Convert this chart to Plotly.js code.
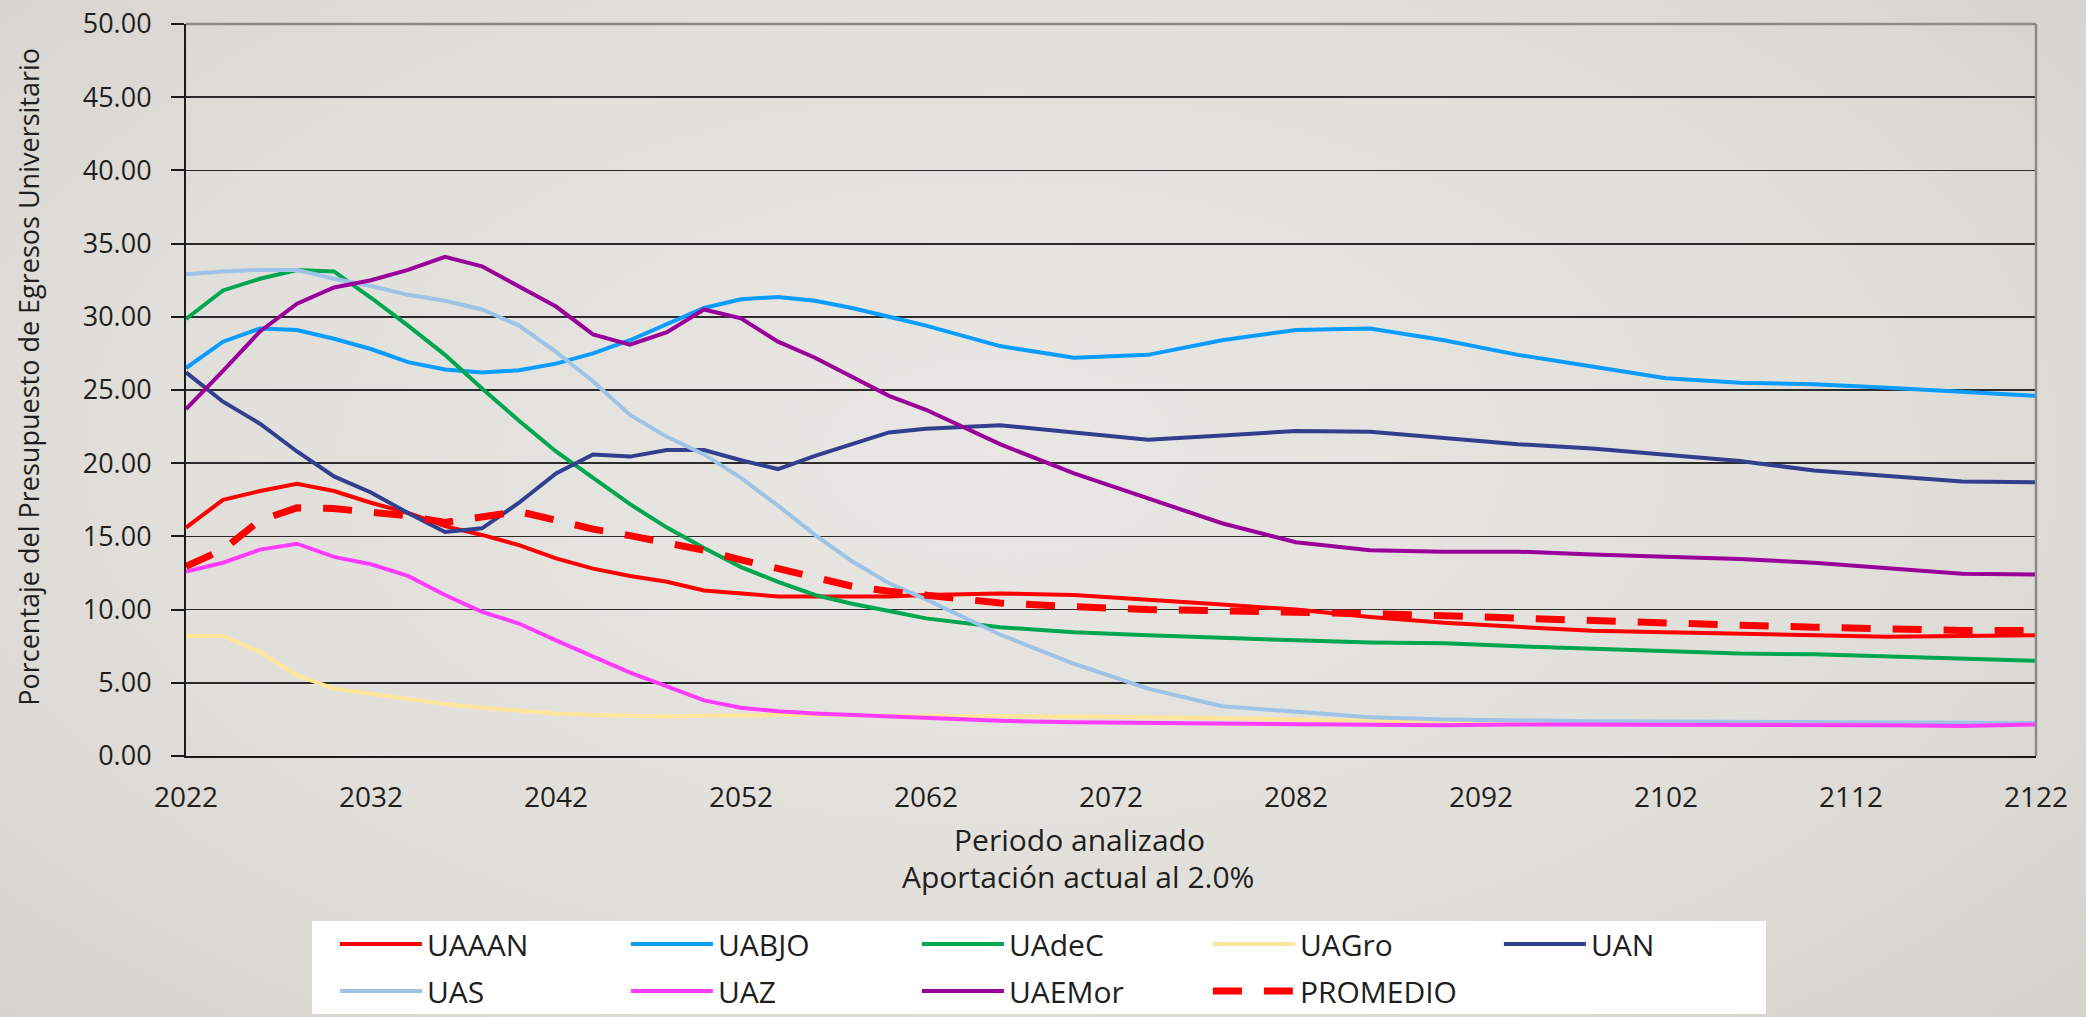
<!DOCTYPE html>
<html>
<head>
<meta charset="utf-8">
<script src="https://cdn.plot.ly/plotly-3.0.1.min.js"></script>
<style>
  html, body { margin: 0; padding: 0; width: 2086px; height: 1017px; overflow: hidden; }
  body { background: radial-gradient(ellipse 75% 85% at 48% 45%, #e9e7e3 0%, #e1dfda 55%, #d3d0ca 100%); }
  #chart { width: 2086px; height: 1017px; }
</style>
</head>
<body>
<div id="chart"></div>
<script>
// Years
const years = [2022,2024,2026,2028,2030,2032,2034,2036,2038,2040,2042,2044,2046,2048,2050,2052,2054,2056,2058,2060,2062,
               2066,2070,2074,2078,2082,2086,2090,2094,2098,2102,2106,2110,2114,2118,2122];

const UAAAN   = [15.6,17.5,18.1,18.6,18.1,17.3,16.6,15.7,15.1,14.4,13.5,12.8,12.3,11.9,11.3,11.1,10.9,10.9,10.9,10.9,11.0,
                 11.1,11.0,10.7,10.35,10.0,9.5,9.1,8.85,8.55,8.45,8.35,8.25,8.15,8.2,8.25];
const UABJO   = [26.5,28.3,29.2,29.1,28.5,27.8,26.9,26.4,26.2,26.35,26.8,27.5,28.4,29.5,30.6,31.2,31.35,31.1,30.6,30.0,29.4,
                 28.0,27.2,27.4,28.4,29.1,29.2,28.4,27.4,26.6,25.8,25.5,25.4,25.15,24.85,24.6];
const UAdeC   = [29.85,31.8,32.6,33.2,33.1,31.3,29.4,27.4,25.1,22.9,20.8,19.0,17.2,15.6,14.2,12.9,11.9,11.0,10.4,9.9,9.4,
                 8.8,8.45,8.25,8.05,7.9,7.75,7.7,7.5,7.35,7.2,7.0,6.95,6.8,6.65,6.5];
const UAGro   = [8.2,8.2,7.1,5.5,4.6,4.25,3.9,3.55,3.3,3.1,2.9,2.8,2.75,2.7,2.75,2.8,2.8,2.8,2.75,2.75,2.75,
                 2.75,2.7,2.65,2.6,2.5,2.4,2.3,2.25,2.2,2.2,2.2,2.2,2.2,2.2,2.2];
const UAN     = [26.2,24.2,22.7,20.8,19.1,18.0,16.6,15.3,15.55,17.3,19.3,20.6,20.45,20.9,20.9,20.2,19.6,20.5,21.3,22.1,22.35,
                 22.6,22.1,21.6,21.9,22.2,22.15,21.7,21.3,21.0,20.6,20.15,19.5,19.1,18.75,18.7];
const UAS     = [32.9,33.1,33.2,33.2,32.6,32.1,31.5,31.1,30.5,29.4,27.6,25.6,23.3,21.8,20.6,19.0,17.1,15.1,13.3,11.8,10.7,
                 8.3,6.3,4.6,3.4,3.0,2.65,2.5,2.42,2.38,2.35,2.32,2.3,2.28,2.25,2.25];
const UAZ     = [12.6,13.2,14.1,14.5,13.6,13.1,12.3,11.0,9.85,9.05,7.9,6.8,5.7,4.75,3.8,3.3,3.05,2.9,2.8,2.7,2.55,
                 2.4,2.3,2.25,2.2,2.15,2.1,2.1,2.15,2.15,2.15,2.15,2.15,2.1,2.05,2.15];
const UAEMor  = [23.7,26.3,29.0,30.9,32.0,32.5,33.2,34.1,33.45,32.1,30.7,28.8,28.1,28.95,30.5,29.9,28.3,27.2,25.9,24.6,23.65,
                 21.3,19.3,17.6,15.9,14.6,14.05,13.96,13.96,13.76,13.63,13.45,13.2,12.85,12.45,12.4];
const PROMEDIO= [12.95,14.1,16.1,16.95,16.9,16.65,16.4,15.95,16.3,16.7,16.1,15.5,15.05,14.6,14.05,13.4,12.8,12.1,11.6,11.25,10.95,
                 10.45,10.2,10.0,9.92,9.86,9.72,9.58,9.4,9.2,9.05,8.93,8.8,8.68,8.57,8.57];

const xTicks = [2022,2032,2042,2052,2062,2072,2082,2092,2102,2112,2122];
const yTicks = [0,5,10,15,20,25,30,35,40,45,50];
const yTitle = 'Porcentaje del Presupuesto de Egresos Universitario';
const xTitle1 = 'Periodo analizado';
const xTitle2 = 'Aportación actual al 2.0%';

const series = [
  {name:'UAAAN', y:UAAAN, color:'#ff0000', legend:'legend'},
  {name:'UABJO', y:UABJO, color:'#0a9cff', legend:'legend'},
  {name:'UAdeC', y:UAdeC, color:'#00a650', legend:'legend'},
  {name:'UAGro', y:UAGro, color:'#ffe699', legend:'legend'},
  {name:'UAN', y:UAN, color:'#323f8e', legend:'legend'},
  {name:'UAS', y:UAS, color:'#9dc3e6', legend:'legend2'},
  {name:'UAZ', y:UAZ, color:'#ff3cff', legend:'legend2'},
  {name:'UAEMor', y:UAEMor, color:'#990099', legend:'legend2'},
  {name:'PROMEDIO', y:PROMEDIO, color:'#ff0000', legend:'legend2', dash:'29px,22px', width:7}
];

const traces = series.map(s => ({
  type:'scatter', mode:'lines', name:s.name, x:years, y:s.y,
  legend:s.legend,
  line:{color:s.color, width:s.width || 4, dash:s.dash || 'solid'},
  hoverinfo:'x+y+name'
}));

const FONT = '"Open Sans", "Noto Sans", sans-serif';
const legendCommon = {
  orientation:'h', xanchor:'left', yanchor:'middle', x:0.0805,
  bgcolor:'rgba(0,0,0,0)', borderwidth:0,
  font:{family:FONT, size:30, color:'#1e1e1e'},
  itemwidth:82, entrywidth:194, entrywidthmode:'pixels',
  traceorder:'normal'
};

const layout = {
  width:2086, height:1017,
  margin:{l:186, r:50, t:24, b:261, autoexpand:false},
  paper_bgcolor:'rgba(0,0,0,0)', plot_bgcolor:'rgba(0,0,0,0)',
  font:{family:FONT, color:'#1e1e1e'},
  showlegend:true,
  legend:Object.assign({}, legendCommon, {y:-0.2568}),
  legend2:Object.assign({}, legendCommon, {y:-0.3210}),
  xaxis:{
    range:[2022,2122], tickvals:xTicks, ticktext:xTicks.map(String),
    showgrid:false, zeroline:false, showline:true, linecolor:'#1a1a1a', linewidth:2,
    ticks:'', ticklabelstandoff:15,
    tickfont:{family:FONT, size:28, color:'#1e1e1e'}
  },
  yaxis:{
    range:[0,50], tickvals:yTicks, tickformat:'.2f',
    showgrid:true, gridcolor:'#2b2b2b', gridwidth:1.8, zeroline:false,
    showline:true, linecolor:'#1a1a1a', linewidth:2,
    ticks:'outside', ticklen:13, tickwidth:2, tickcolor:'#1a1a1a', ticklabelstandoff:14,
    tickfont:{family:FONT, size:27, color:'#1e1e1e'}
  },
  shapes:[
    {type:'rect', xref:'paper', yref:'paper', x0:0.0681, x1:0.8541, y0:-0.3525, y1:-0.2254,
     fillcolor:'#ffffff', line:{width:0}, layer:'below'},
    {type:'line', xref:'paper', yref:'paper', x0:0, x1:1, y0:1, y1:1, line:{color:'#8a8a8a', width:2.5}, layer:'above'},
    {type:'line', xref:'paper', yref:'paper', x0:1, x1:1, y0:0, y1:1, line:{color:'#8a8a8a', width:2.5}, layer:'above'}
  ],
  annotations:[
    {text:yTitle, xref:'paper', yref:'paper', x:-0.0849, y:0.518, textangle:-90,
     showarrow:false, xanchor:'center', yanchor:'middle', font:{family:FONT, size:27, color:'#1e1e1e'}},
    {text:xTitle1, xref:'paper', yref:'paper', x:0.4832, y:(756-840)/732,
     showarrow:false, xanchor:'center', yanchor:'middle', font:{family:FONT, size:30, color:'#1e1e1e'}},
    {text:xTitle2, xref:'paper', yref:'paper', x:0.4822, y:(756-876)/732,
     showarrow:false, xanchor:'center', yanchor:'middle', font:{family:FONT, size:30, color:'#1e1e1e'}}
  ]
};

Plotly.newPlot('chart', traces, layout, {displayModeBar:false, staticPlot:true});
</script>
</body>
</html>
